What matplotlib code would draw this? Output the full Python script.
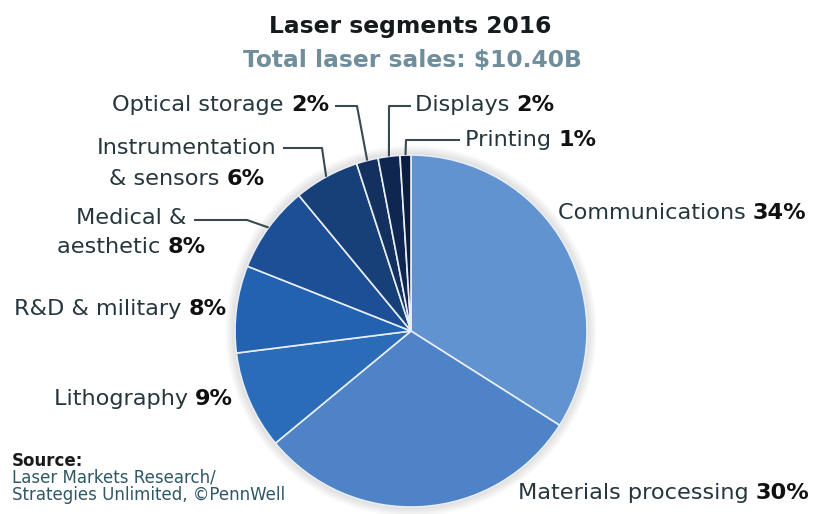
import matplotlib
matplotlib.use('Agg')
import numpy as np
from matplotlib import pyplot as plt
from matplotlib.patches import Circle

plt.rcParams['font.family'] = ['DejaVu Sans']

# data
segments = ['Communications', 'Materials processing', 'Lithography', 'R&D & military',
            'Medical &\naesthetic', 'Instrumentation\n& sensors', 'Optical storage',
            'Displays', 'Printing']
shares = [34, 30, 9, 8, 8, 6, 2, 2, 1]
title = 'Laser segments 2016'
subtitle = 'Total laser sales: $10.40B'
source = ['Source:', 'Laser Markets Research/', 'Strategies Unlimited, \u00a9PennWell']

colors = ['#6193d0', '#4f83c7', '#2b6cb9', '#2262b0', '#1c4f96',
          '#173f78', '#13305e', '#0f2750', '#0b1d3f']
txt_col = '#26363d'
pct_col = '#111111'
line_col = '#3a4850'
FS = 16.1

W, H = 814, 514
fig = plt.figure(figsize=(W / 100, H / 100), dpi=100)
ax = fig.add_axes([0, 0, 1, 1])

cx, cy, R = 411, 331, 176

# soft halo round the pie
for i in range(8):
    ax.add_patch(Circle((cx, cy), R + 1 + i * 1.2, color='#8a8a8a', alpha=0.035, lw=0, zorder=0))

# y axis is flipped below, so -90 is the top and counterclock runs clockwise on screen
wedges, _ = ax.pie(shares, colors=colors, startangle=-90, counterclock=True,
                   center=(cx, cy), radius=R,
                   wedgeprops=dict(edgecolor='#e8eef6', linewidth=1.2))
ax.set_xlim(0, W)
ax.set_ylim(H, 0)
ax.set_aspect('equal')
ax.axis('off')

fig.canvas.draw()
rend = fig.canvas.get_renderer()


def width_of(t):
    bb = t.get_window_extent(renderer=rend)
    return bb.width


def label(x, y, name, pct, ha='left', size=FS):
    # regular name plus bold percent on one line
    if ha == 'left':
        t = ax.text(x, y, name + ' ', ha='left', va='center', fontsize=size, color=txt_col)
        w = width_of(t)
        ax.text(x + w, y, pct, ha='left', va='center', fontsize=size, color=pct_col, fontweight='bold')
    else:
        t = ax.text(x, y, pct, ha='right', va='center', fontsize=size, color=pct_col, fontweight='bold')
        w = width_of(t)
        ax.text(x - w, y, name + ' ', ha='right', va='center', fontsize=size, color=txt_col)


def label_centered(xc, y1, y2, line1, name2, pct, size=FS):
    ax.text(xc, y1, line1, ha='center', va='center', fontsize=size, color=txt_col)
    t1 = ax.text(0, 0, name2 + ' ', fontsize=size)
    t2 = ax.text(0, 0, pct, fontsize=size, fontweight='bold')
    w1, w2 = width_of(t1), width_of(t2)
    t1.remove()
    t2.remove()
    x0 = xc - (w1 + w2) / 2
    ax.text(x0, y2, name2 + ' ', ha='left', va='center', fontsize=size, color=txt_col)
    ax.text(x0 + w1, y2, pct, ha='left', va='center', fontsize=size, color=pct_col, fontweight='bold')


def edge_point(i):
    w = wedges[i]
    a = np.deg2rad((w.theta1 + w.theta2) / 2)
    return cx + R * np.cos(a), cy + R * np.sin(a)


def leader(i, pts):
    ex, ey = edge_point(i)
    xs = [p[0] for p in pts] + [ex]
    ys = [p[1] for p in pts] + [ey]
    ax.plot(xs, ys, color=line_col, lw=1.5, solid_capstyle='butt', zorder=5)


p = ['%d%%' % s for s in shares]

label(558, 213, segments[0], p[0])
label(518, 493, segments[1], p[1])
label(233, 399, segments[2], p[2], ha='right')
label(227, 309, segments[3], p[3], ha='right')
m1, m2 = segments[4].split('\n')
label_centered(131, 218, 247, m1, m2, p[4])
n1, n2 = segments[5].split('\n')
label_centered(187, 148, 179, n1, n2, p[5])
label(329, 105, segments[6], p[6], ha='right')
label(415, 105, segments[7], p[7])
label(465, 140, segments[8], p[8])

leader(4, [(194, 220), (247, 220)])
leader(5, [(283, 148), (322, 148)])
leader(6, [(335, 106), (357, 106)])
leader(7, [(411, 106), (389, 106)])
leader(8, [(460, 140), (406, 140)])

ax.text(410, 27, title, ha='center', va='center', fontsize=16.8, fontweight='bold', color='#151a1c')
ax.text(412, 61, subtitle, ha='center', va='center', fontsize=16.8, fontweight='bold', color='#6f8d9a')

ax.text(12, 461, source[0], ha='left', va='center', fontsize=12, fontweight='bold', color='#1a1a1a')
ax.text(12, 478, source[1], ha='left', va='center', fontsize=12, color='#2f5766')
ax.text(12, 495, source[2], ha='left', va='center', fontsize=12, color='#2f5766')

fig.savefig('out.png', dpi=100)
